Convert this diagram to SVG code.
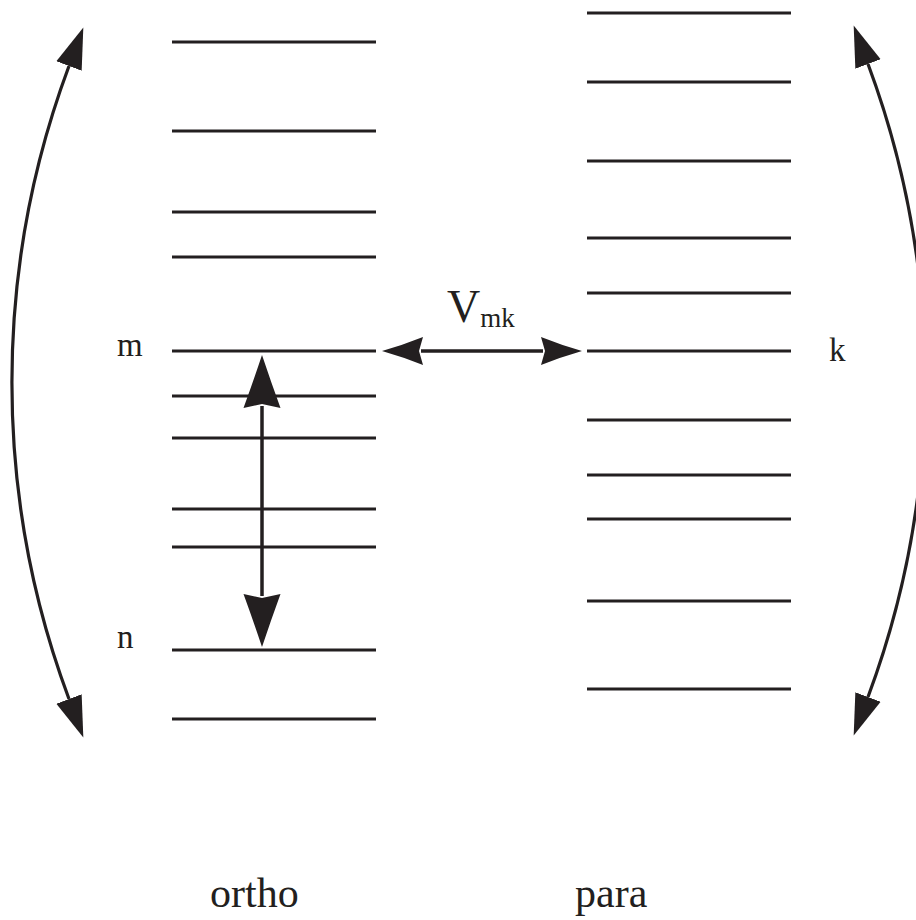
<svg xmlns="http://www.w3.org/2000/svg" width="916" height="920" viewBox="0 0 916 920">
<style>
.lvl{stroke:#231f20;stroke-width:2.8;fill:none}
.lbl{font-family:"Liberation Serif","Times New Roman",serif;fill:#231f20}
.con{stroke:#231f20;fill:none}
</style>
<defs>
<marker id="ahC" markerUnits="userSpaceOnUse" markerWidth="60" markerHeight="40" refX="0" refY="14" orient="auto-start-reverse" viewBox="0 0 60 40">
<path d="M0,0.5 L41,14 L0,27.5 Z" fill="#231f20"/>
</marker>
<marker id="ahV" markerUnits="userSpaceOnUse" markerWidth="60" markerHeight="40" refX="2" refY="19" orient="auto-start-reverse" viewBox="0 0 60 40">
<path d="M53,19 Q26,10 0,0.5 L4,19 L0,37.5 Q26,28 53,19 Z" fill="#231f20"/>
</marker>
<marker id="ahH" markerUnits="userSpaceOnUse" markerWidth="50" markerHeight="30" refX="2" refY="14" orient="auto-start-reverse" viewBox="0 0 50 30">
<path d="M41,14 Q20,8 0,0 L4,14 L0,28 Q20,20 41,14 Z" fill="#231f20"/>
</marker>
</defs>

<g id="ortho-levels">
<line class="lvl" x1="172" y1="42" x2="376" y2="42"/>
<line class="lvl" x1="172" y1="131" x2="376" y2="131"/>
<line class="lvl" x1="172" y1="212" x2="376" y2="212"/>
<line class="lvl" x1="172" y1="257" x2="376" y2="257"/>
<line class="lvl" x1="172" y1="351" x2="376" y2="351"/>
<line class="lvl" x1="172" y1="396" x2="376" y2="396"/>
<line class="lvl" x1="172" y1="438" x2="376" y2="438"/>
<line class="lvl" x1="172" y1="509" x2="376" y2="509"/>
<line class="lvl" x1="172" y1="547" x2="376" y2="547"/>
<line class="lvl" x1="172" y1="650" x2="376" y2="650"/>
<line class="lvl" x1="172" y1="719" x2="376" y2="719"/>
</g>

<g id="para-levels">
<line class="lvl" x1="587" y1="13" x2="791" y2="13"/>
<line class="lvl" x1="587" y1="82" x2="791" y2="82"/>
<line class="lvl" x1="587" y1="161" x2="791" y2="161"/>
<line class="lvl" x1="587" y1="238" x2="791" y2="238"/>
<line class="lvl" x1="587" y1="293" x2="791" y2="293"/>
<line class="lvl" x1="587" y1="351" x2="791" y2="351"/>
<line class="lvl" x1="587" y1="420" x2="791" y2="420"/>
<line class="lvl" x1="587" y1="475" x2="791" y2="475"/>
<line class="lvl" x1="587" y1="519" x2="791" y2="519"/>
<line class="lvl" x1="587" y1="601" x2="791" y2="601"/>
<line class="lvl" x1="587" y1="689" x2="791" y2="689"/>
</g>

<g id="connectors">
<path class="con" stroke-width="3.2" d="M69,66 A906,906 0 0 0 69,699" marker-start="url(#ahC)" marker-end="url(#ahC)"/>
<path class="con" stroke-width="3.2" d="M868,64 A906,906 0 0 1 868,697" marker-start="url(#ahC)" marker-end="url(#ahC)"/>
<line class="con" stroke-width="3.5" x1="262" y1="406" x2="262" y2="596" marker-start="url(#ahV)" marker-end="url(#ahV)"/>
<line class="con" stroke-width="3.5" x1="421" y1="351" x2="543" y2="351" marker-start="url(#ahH)" marker-end="url(#ahH)"/>
</g>

<g id="labels">
<text class="lbl" x="117" y="356" font-size="33">m</text>
<text class="lbl" x="117" y="648" font-size="33">n</text>
<text class="lbl" x="829" y="361" font-size="33">k</text>
<text class="lbl" x="447" y="322" font-size="46">V<tspan font-size="27" dy="5">mk</tspan></text>
<text class="lbl" x="210" y="907" font-size="42">ortho</text>
<text class="lbl" x="575" y="907" font-size="42">para</text>
</g>
</svg>
